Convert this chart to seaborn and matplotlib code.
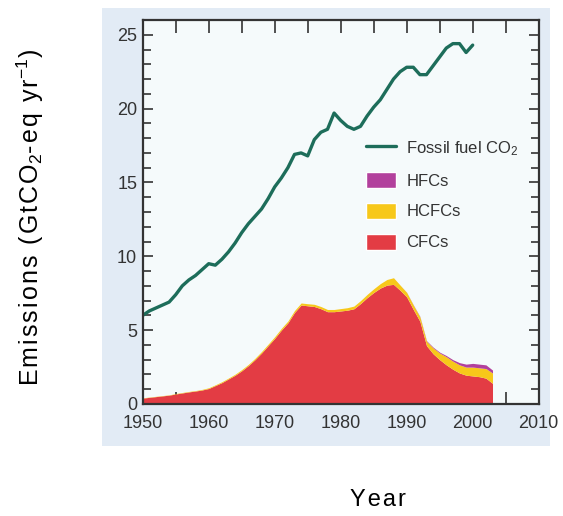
import numpy as np
import seaborn as sns
import matplotlib
matplotlib.use('Agg')
from matplotlib import pyplot as plt
from matplotlib.patches import Rectangle, Patch
from matplotlib.lines import Line2D

# fossil fuel CO2, 1950-2000
ff_years = list(range(1950, 2001))
fossil = [6.0, 6.3, 6.5, 6.7, 6.9, 7.4, 8.0, 8.4, 8.7, 9.1,
          9.5, 9.4, 9.8, 10.3, 10.9, 11.6, 12.2, 12.7, 13.2, 13.9,
          14.7, 15.3, 16.0, 16.9, 17.0, 16.8, 17.9, 18.4, 18.6, 19.7,
          19.2, 18.8, 18.6, 18.8, 19.5, 20.1, 20.6, 21.3, 22.0, 22.5,
          22.8, 22.8, 22.3, 22.3, 22.9, 23.5, 24.1, 24.4, 24.4, 23.8,
          24.3]

# halocarbons, 1950-2003
gas_years = list(range(1950, 2004))
cfcs = [0.40, 0.45, 0.50, 0.55, 0.60, 0.68, 0.75, 0.82, 0.88, 0.95,
        1.05, 1.25, 1.45, 1.70, 1.95, 2.25, 2.60, 3.00, 3.45, 3.95,
        4.45, 5.00, 5.50, 6.20, 6.70, 6.65, 6.60, 6.45, 6.25, 6.25,
        6.30, 6.35, 6.45, 6.80, 7.20, 7.55, 7.85, 8.05, 8.10, 7.70,
        7.25, 6.40, 5.60, 3.95, 3.40, 3.00, 2.65, 2.35, 2.10, 1.95,
        1.90, 1.85, 1.75, 1.40]
hcfcs = [0.02, 0.02, 0.02, 0.02, 0.02, 0.03, 0.03, 0.03, 0.03, 0.04,
         0.05, 0.05, 0.06, 0.06, 0.07, 0.08, 0.08, 0.09, 0.10, 0.10,
         0.11, 0.12, 0.12, 0.13, 0.14, 0.14, 0.15, 0.15, 0.15, 0.15,
         0.16, 0.17, 0.18, 0.20, 0.22, 0.25, 0.30, 0.38, 0.45, 0.35,
         0.30, 0.30, 0.30, 0.30, 0.40, 0.45, 0.55, 0.55, 0.55, 0.55,
         0.60, 0.60, 0.65, 0.70]
hfcs = [0.0] * 40 + [0.01, 0.02, 0.03, 0.04, 0.05, 0.06, 0.08, 0.10,
                     0.15, 0.20, 0.25, 0.25, 0.25, 0.20]

labels = ['Fossil fuel CO$_2$', 'HFCs', 'HCFCs', 'CFCs']
c_line = '#1d6d5a'
c_cfc = '#e33c44'
c_hcfc = '#f7c81a'
c_hfc = '#b2409c'


def track(s):
    # loose letter spacing outside the $...$ parts
    out = []
    for i, part in enumerate(s.split('$')):
        out.append(part if i % 2 else '\u200a'.join(part))
    return '$'.join(out)


sns.set_theme(style='ticks')
plt.rcParams['font.family'] = ['Liberation Sans Narrow', 'Liberation Sans']
plt.rcParams['mathtext.default'] = 'regular'

fig = plt.figure(figsize=(5.63, 5.16), dpi=100)
fig.patch.set_facecolor('white')
# scanned panel background
fig.patches.append(Rectangle((102 / 563, 1 - 446 / 516), 448 / 563, 438 / 516,
                             transform=fig.transFigure, facecolor='#e2ebf5',
                             edgecolor='none', zorder=-5))

ax = fig.add_axes([142.7 / 563, 1 - 404 / 516, 396 / 563, 384 / 516])
ax.set_zorder(2)
ax.set_facecolor('#f5fafb')

ax.stackplot(gas_years, cfcs, hcfcs, hfcs, colors=[c_cfc, c_hcfc, c_hfc],
             linewidth=0)
sns.lineplot(x=ff_years, y=fossil, color=c_line, linewidth=2.4, ax=ax)

ax.set_xlim(1950, 2010)
ax.set_ylim(0, 26)
ax.set_xticks(range(1950, 2011, 10))
ax.set_xticks(range(1955, 2010, 10), minor=True)
ax.set_yticks(range(0, 26, 5))
ax.set_yticks(range(0, 26, 1), minor=True)
ax.tick_params(which='both', direction='in', top=True, right=True,
               color='#333333', width=1.2, labelsize=13, labelcolor='#333333')
ax.tick_params(axis='x', which='both', length=9, pad=8)
ax.tick_params(axis='y', which='major', length=7, pad=4)
ax.tick_params(axis='y', which='minor', length=6)
for s in ax.spines.values():
    s.set_color('#333333')
    s.set_linewidth(1.6)
ax.set_xlabel('')
ax.set_ylabel('')

handles = [Line2D([], [], color=c_line, linewidth=2.4),
           Patch(facecolor=c_hfc), Patch(facecolor=c_hcfc), Patch(facecolor=c_cfc)]
ax.legend(handles, labels, loc='upper left', bbox_to_anchor=(0.565, 0.69),
          frameon=False, fontsize=12, handlelength=1.8, handleheight=1.1,
          handletextpad=0.6, labelspacing=0.85, borderpad=0, borderaxespad=0,
          labelcolor='#333333')

fig.text(30 / 563, 1 - 217 / 516, track('Emissions (GtCO$_2$-eq yr$^{-1}$)'),
         rotation=90, ha='center', va='center', fontsize=18,
         family=['Liberation Sans', 'DejaVu Sans'], color='black')
fig.text(378 / 563, 1 - 500 / 516, track('Year'), ha='center', va='center',
         fontsize=17, family=['Liberation Sans', 'DejaVu Sans'], color='black')

fig.savefig('out.png', dpi=100)
